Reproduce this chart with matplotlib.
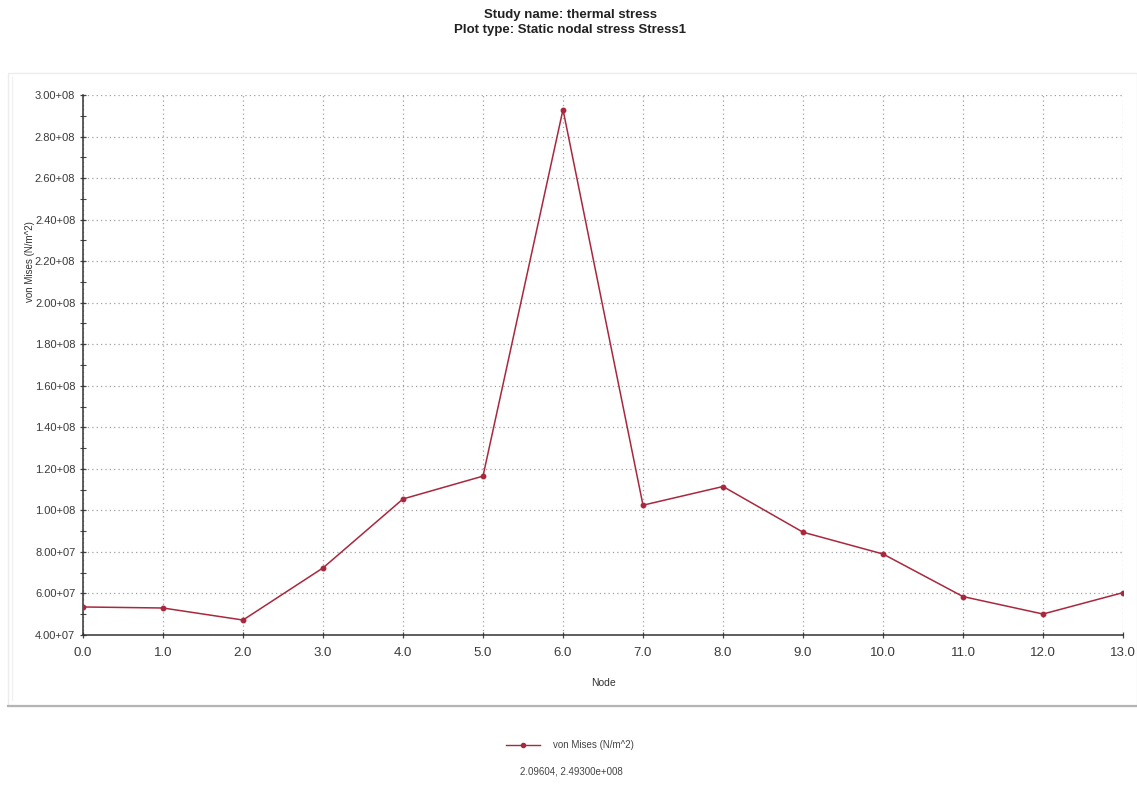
import matplotlib
matplotlib.use("Agg")
import matplotlib.pyplot as plt
from matplotlib.patches import Rectangle
from matplotlib.lines import Line2D
from matplotlib.ticker import MultipleLocator, FuncFormatter

plt.rcParams['font.family'] = ['Liberation Sans', 'DejaVu Sans']

nodes = [0, 1, 2, 3, 4, 5, 6, 7, 8, 9, 10, 11, 12, 13]
von_mises = [5.35e7, 5.30e7, 4.72e7, 7.23e7, 1.055e8, 1.165e8, 2.93e8,
             1.025e8, 1.115e8, 8.95e7, 7.90e7, 5.85e7, 5.01e7, 6.04e7]

title_lines = ["Study name: thermal stress", "Plot type: Static nodal stress Stress1"]
series_label = "von Mises (N/m^2)"
cursor_text = "2.09604, 2.49300e+008"

line_color = "#a8283e"

fig = plt.figure(figsize=(11.37, 7.90), dpi=100)

# faint panel around the plot area
panel = Rectangle((8 / 1137, 1 - 706 / 790), (1137 - 8) / 1137, (706 - 73) / 790,
                  transform=fig.transFigure, fill=False, edgecolor="#ececec", lw=1.0)
fig.add_artist(panel)
fig.add_artist(Line2D([12 / 1137, 12 / 1137], [1 - 700 / 790, 1 - 77 / 790],
                      transform=fig.transFigure, color="#f2f2f2", lw=1.0))
fig.add_artist(Line2D([8 / 1137, 1137 / 1137], [1 - 706 / 790, 1 - 706 / 790],
                      transform=fig.transFigure, color="#b4b4b4", lw=1.6))

ax = fig.add_axes([83 / 1137, 1 - 635 / 790, (1123 - 83) / 1137, (635 - 95) / 790])
ax.plot(nodes, von_mises, color=line_color, lw=1.1, marker='o', ms=3.2,
        markerfacecolor=line_color, markeredgecolor=line_color, zorder=3)

ax.set_xlim(0, 13)
ax.set_ylim(4e7, 3e8)
ax.xaxis.set_major_locator(MultipleLocator(1))
ax.yaxis.set_major_locator(MultipleLocator(2e7))
ax.yaxis.set_minor_locator(MultipleLocator(1e7))
ax.xaxis.set_major_formatter(FuncFormatter(lambda v, p: f"{v:.1f}"))


def sci_label(v, p):
    exp = 0
    m = v
    while abs(m) >= 10:
        m /= 10
        exp += 1
    return f"{m:.2f}+{exp:02d}"


ax.yaxis.set_major_formatter(FuncFormatter(sci_label))

for s in ("top", "right"):
    ax.spines[s].set_visible(False)
for s in ("left", "bottom"):
    ax.spines[s].set_color("#333333")
    ax.spines[s].set_linewidth(1.1)

ax.tick_params(axis='both', which='major', direction='inout', length=5, width=0.9,
               color="#444444", labelsize=8, labelcolor="#3a3a3a", pad=3)
ax.tick_params(axis='y', which='minor', direction='inout', length=4, width=0.8, color="#444444")
ax.tick_params(axis='x', labelsize=9.5, pad=6)

ax.grid(True, which='major', color="#a0a0a0", linestyle=(0, (1, 2.5)), lw=0.9)
ax.set_axisbelow(True)

ax.set_xlabel("Node", fontsize=7.5, color="#333333", labelpad=14)
fig.text(30 / 1137, 1 - 262 / 790, series_label, rotation=90, fontsize=7,
         color="#333333", ha='center', va='center')

fig.text(0.5015, 1 - 15 / 790, title_lines[0], ha='center', va='center',
         fontsize=9.5, fontweight='bold', color="#222222")
fig.text(0.5015, 1 - 30 / 790, title_lines[1], ha='center', va='center',
         fontsize=9.5, fontweight='bold', color="#222222")

# legend entry below the panel
fig.add_artist(Line2D([506 / 1137, 540 / 1137], [1 - 745 / 790, 1 - 745 / 790],
                      transform=fig.transFigure, color=line_color, lw=1.0))
fig.add_artist(Line2D([523 / 1137], [1 - 745 / 790], transform=fig.transFigure,
                      color=line_color, marker='o', ms=3))
fig.text(553 / 1137, 1 - 745 / 790, series_label, fontsize=7, color="#444444",
         ha='left', va='center')
fig.text(571 / 1137, 1 - 771 / 790, cursor_text, fontsize=7, color="#444444",
         ha='center', va='center')

fig.savefig("out.png", dpi=100, facecolor="white")
